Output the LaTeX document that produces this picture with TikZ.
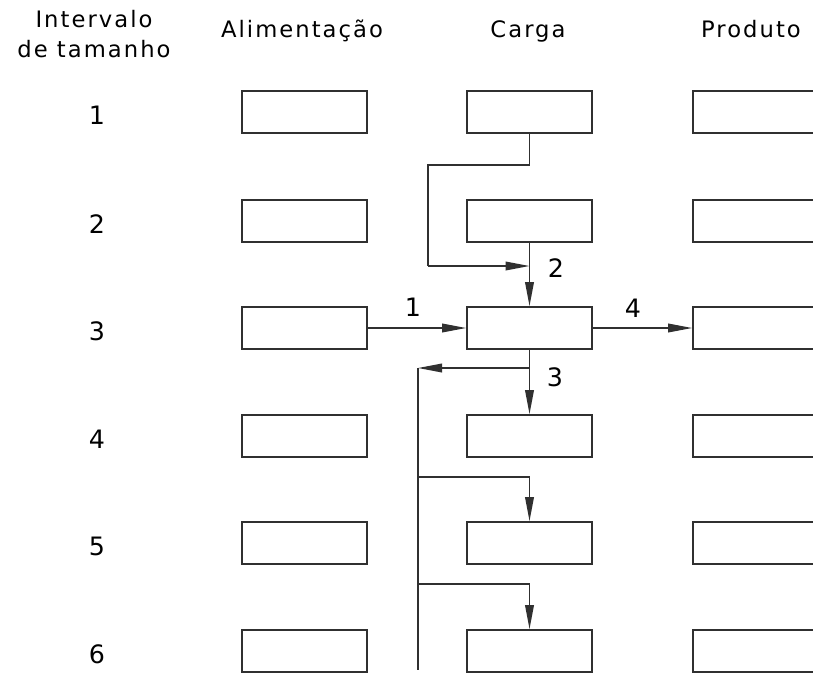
\documentclass[tikz,border=0pt]{standalone}
\usepackage{fontspec}
\setmainfont{DejaVu Sans}[LetterSpace=9]
\usetikzlibrary{arrows.meta}
\definecolor{ink}{HTML}{303030}
\tikzset{
  stagebox/.style={draw=ink, line width=1.3pt, minimum width=125*0.75pt, minimum height=42*0.75pt, inner sep=0pt},
  flow/.style={draw=ink, line width=1.1pt, -{Triangle[length=18pt,width=6.5pt]}},
  plain/.style={draw=ink, line width=1.1pt},
  head/.style={font=\fontsize{17}{20}\selectfont, anchor=base, inner sep=0pt},
  rowlbl/.style={font=\fontsize{19}{22}\selectfont, inner sep=0pt},
  arrlbl/.style={font=\fontsize{19}{22}\selectfont, inner sep=0pt},
}
\begin{document}
\begin{tikzpicture}[x=0.75pt, y=-0.75pt]
\useasboundingbox (0,0) rectangle (813,675);
% headers
\node[head] (h0a) at (94,27) {Intervalo};
\node[head] (h0b) at (94,57) {de tamanho};
\node[head] (h1) at (302,37) {Alimentação};
\node[head] (h2) at (528,37) {Carga};
\node[head] (h3) at (751,37) {Produto};
% rows
\foreach \r/\y in {1/112,2/221,3/328,4/436,5/543,6/651}{
  \node[rowlbl] (n\r) at (97,\y+3) {\r};
  \node[stagebox] (a\r) at (304.5,\y) {};
  \node[stagebox] (c\r) at (529.5,\y) {};
  \node[stagebox] (p\r) at (755.5,\y) {};
}
% junction coordinates
\coordinate (j2) at (529.5,266);
\coordinate (j3) at (529.5,368);
\coordinate (t3) at (418,368);
\coordinate (b5) at (418,477);
\coordinate (b6) at (418,584);
\coordinate (bot) at (418,670);
% connectors
\draw[plain] (c1.south) -- (529.5,165) -- (428,165) -- (428,266);
\draw[flow] (428,266) -- (j2);
\draw[flow] (c2.south) -- (c3.north);
\draw[flow] (a3.east) -- (c3.west);
\draw[flow] (c3.east) -- (p3.west);
\draw[flow] (c3.south) -- (c4.north);
\draw[flow] (j3) -- (t3);
\draw[plain] (t3) -- (bot);
\draw[flow] (b5) -- (c5.north |- b5) -- (c5.north);
\draw[flow] (b6) -- (c6.north |- b6) -- (c6.north);
% flow labels
\node[arrlbl] (l1) at (413,307) {1};
\node[arrlbl] (l2) at (556,268) {2};
\node[arrlbl] (l3) at (555,377) {3};
\node[arrlbl] (l4) at (633,308) {4};
\end{tikzpicture}
\end{document}
